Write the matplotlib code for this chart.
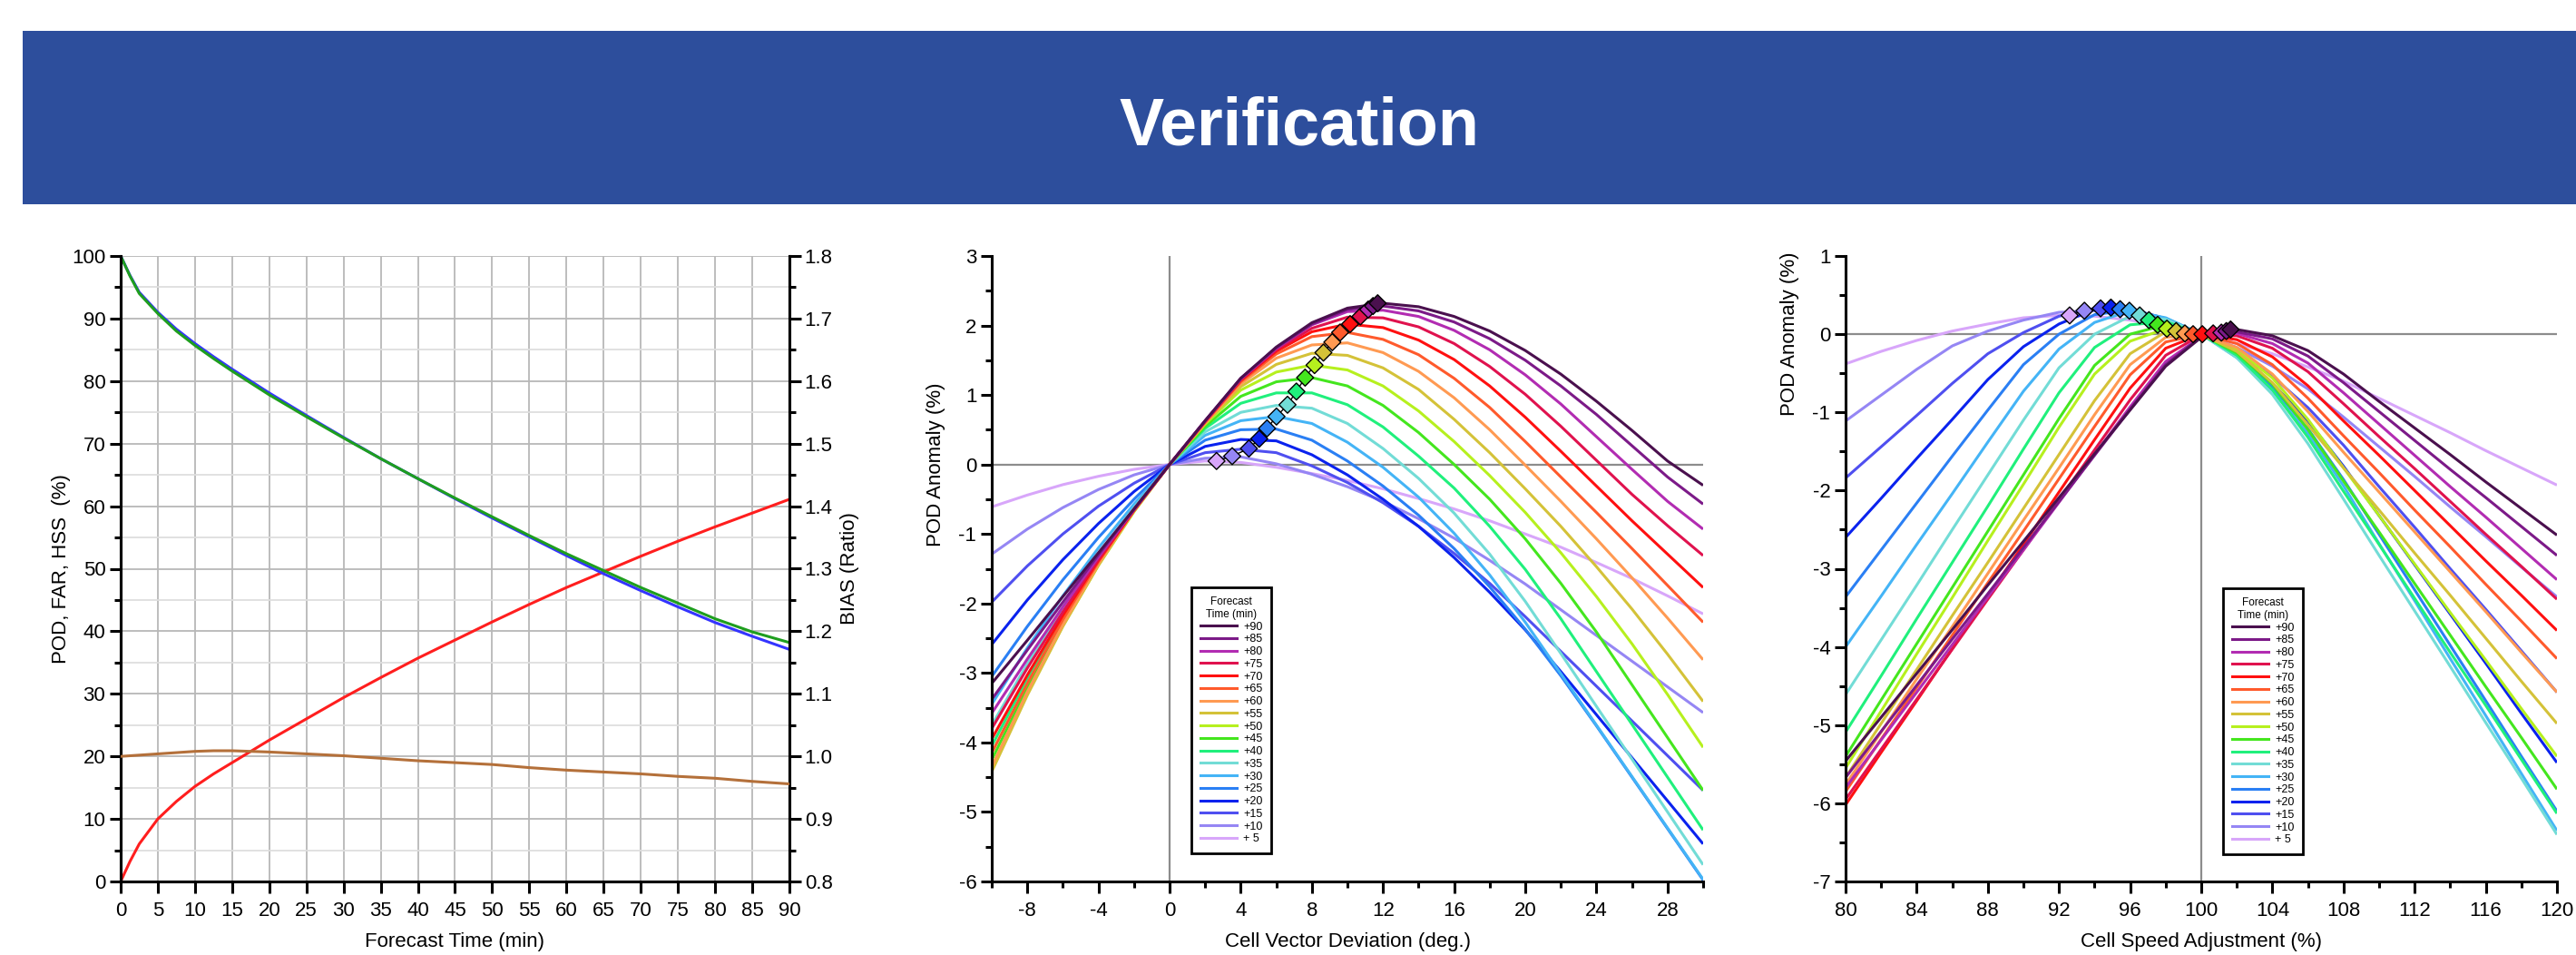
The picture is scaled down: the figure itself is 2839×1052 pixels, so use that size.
import matplotlib
matplotlib.use('Agg')
import matplotlib.pyplot as plt
from matplotlib.patches import Rectangle
from matplotlib.ticker import MultipleLocator, FormatStrFormatter
from matplotlib.lines import Line2D

plt.rcParams['font.family'] = ['Liberation Sans', 'DejaVu Sans']
plt.rcParams['axes.unicode_minus'] = False

# ---- left panel: scores vs forecast time ----
lead_min = [0, 1.25, 2.5, 5, 7.5, 10, 12.5, 15, 20, 25, 30, 35, 40, 45, 50, 55, 60, 65, 70, 75, 80, 85, 90]
pod_blue = [100, 96.9, 94.2, 91.0, 88.3, 86.0, 83.9, 81.9, 78.1, 74.5, 71.0, 67.6, 64.4, 61.2, 58.1, 55.1,
            52.1, 49.2, 46.5, 43.9, 41.4, 39.2, 37.1]
hss_green = [100, 96.8, 94.0, 90.8, 88.0, 85.7, 83.6, 81.6, 77.8, 74.3, 70.9, 67.6, 64.4, 61.3, 58.3, 55.3,
             52.4, 49.7, 47.0, 44.5, 42.0, 39.9, 38.2]
far_red = [0, 3.2, 6.0, 10.0, 12.8, 15.2, 17.2, 19.0, 22.6, 26.0, 29.4, 32.6, 35.7, 38.6, 41.5, 44.3,
           47.0, 49.5, 52.0, 54.4, 56.7, 58.9, 61.1]
bias_brown = [1.000, 1.001, 1.002, 1.004, 1.006, 1.008, 1.009, 1.009, 1.007, 1.004, 1.001, 0.997, 0.993,
              0.990, 0.987, 0.982, 0.978, 0.975, 0.972, 0.968, 0.965, 0.960, 0.956]

# ---- middle panel: POD anomaly vs cell vector deviation ----
dev_x = [-10, -8, -6, -4, -2, 0, 2, 4, 6, 8, 10, 12, 14, 16, 18, 20, 22, 24, 26, 28, 30]
dev_05 = [-0.61, -0.44, -0.29, -0.17, -0.07, 0, 0.05, 0.03, -0.04, -0.13, -0.23, -0.35, -0.49, -0.64, -0.81, -1.00, -1.19, -1.41, -1.64, -1.89, -2.15]
dev_10 = [-1.29, -0.93, -0.62, -0.36, -0.15, 0, 0.09, 0.11, 0.01, -0.14, -0.32, -0.53, -0.78, -1.06, -1.38, -1.72, -2.09, -2.46, -2.83, -3.20, -3.57]
dev_15 = [-1.98, -1.46, -1.00, -0.60, -0.27, 0, 0.17, 0.22, 0.17, -0.02, -0.26, -0.55, -0.89, -1.28, -1.71, -2.19, -2.69, -3.19, -3.69, -4.19, -4.69]
dev_20 = [-2.59, -1.95, -1.37, -0.85, -0.39, 0, 0.26, 0.36, 0.34, 0.14, -0.15, -0.50, -0.89, -1.34, -1.84, -2.38, -2.98, -3.60, -4.22, -4.84, -5.46]
dev_25 = [-3.05, -2.33, -1.66, -1.05, -0.50, 0, 0.35, 0.50, 0.51, 0.35, 0.05, -0.31, -0.73, -1.21, -1.76, -2.37, -3.04, -3.76, -4.50, -5.24, -5.98]
dev_30 = [-3.45, -2.64, -1.89, -1.20, -0.57, 0, 0.42, 0.63, 0.69, 0.59, 0.32, -0.04, -0.47, -0.99, -1.59, -2.27, -3.01, -3.75, -4.49, -5.23, -5.97]
dev_35 = [-3.75, -2.87, -2.05, -1.30, -0.62, 0, 0.47, 0.75, 0.85, 0.81, 0.59, 0.23, -0.20, -0.70, -1.29, -1.97, -2.72, -3.48, -4.24, -5.00, -5.76]
dev_40 = [-4.05, -3.08, -2.19, -1.38, -0.65, 0, 0.52, 0.88, 1.03, 1.03, 0.86, 0.54, 0.12, -0.34, -0.89, -1.51, -2.22, -2.98, -3.74, -4.50, -5.26]
dev_45 = [-4.25, -3.21, -2.27, -1.42, -0.66, 0, 0.55, 0.98, 1.19, 1.25, 1.13, 0.85, 0.46, 0.00, -0.50, -1.07, -1.71, -2.41, -3.17, -3.93, -4.69]
dev_50 = [-4.35, -3.29, -2.32, -1.45, -0.68, 0, 0.58, 1.07, 1.33, 1.43, 1.36, 1.13, 0.77, 0.33, -0.16, -0.69, -1.27, -1.90, -2.58, -3.31, -4.07]
dev_55 = [-4.42, -3.32, -2.33, -1.45, -0.67, 0, 0.59, 1.12, 1.44, 1.60, 1.57, 1.39, 1.08, 0.65, 0.17, -0.35, -0.89, -1.47, -2.08, -2.73, -3.41]
dev_60 = [-4.35, -3.27, -2.30, -1.43, -0.66, 0, 0.60, 1.16, 1.53, 1.72, 1.75, 1.61, 1.34, 0.96, 0.50, -0.01, -0.53, -1.07, -1.63, -2.21, -2.81]
dev_65 = [-4.15, -3.15, -2.23, -1.40, -0.66, 0, 0.61, 1.19, 1.59, 1.84, 1.90, 1.80, 1.58, 1.24, 0.82, 0.33, -0.18, -0.69, -1.21, -1.74, -2.27]
dev_70 = [-3.95, -3.03, -2.17, -1.38, -0.66, 0, 0.62, 1.21, 1.63, 1.91, 2.02, 1.97, 1.79, 1.51, 1.13, 0.68, 0.19, -0.31, -0.81, -1.29, -1.77]
dev_75 = [-3.80, -2.93, -2.12, -1.36, -0.65, 0, 0.62, 1.22, 1.65, 1.96, 2.12, 2.11, 1.98, 1.74, 1.41, 1.01, 0.55, 0.06, -0.43, -0.88, -1.31]
dev_80 = [-3.58, -2.80, -2.05, -1.33, -0.65, 0, 0.63, 1.23, 1.67, 2.01, 2.20, 2.22, 2.13, 1.93, 1.65, 1.29, 0.87, 0.40, -0.07, -0.53, -0.93]
dev_85 = [-3.38, -2.67, -1.98, -1.30, -0.64, 0, 0.63, 1.24, 1.68, 2.02, 2.23, 2.28, 2.21, 2.05, 1.81, 1.50, 1.13, 0.72, 0.27, -0.18, -0.57]
dev_90 = [-3.15, -2.53, -1.90, -1.27, -0.64, 0, 0.63, 1.24, 1.69, 2.04, 2.25, 2.32, 2.27, 2.13, 1.92, 1.64, 1.30, 0.91, 0.49, 0.05, -0.30]
dev_peak_x = [2.64, 3.52, 4.46, 5.04, 5.48, 6.01, 6.63, 7.13, 7.62, 8.15, 8.65, 9.15, 9.59, 10.15, 10.73, 11.17, 11.44, 11.70]
dev_peak_y = [0.05, 0.12, 0.23, 0.37, 0.52, 0.69, 0.86, 1.05, 1.25, 1.43, 1.61, 1.76, 1.90, 2.02, 2.13, 2.23, 2.28, 2.32]

# ---- right panel: POD anomaly vs cell speed adjustment ----
spd_x = [80, 82, 84, 86, 88, 90, 92, 94, 96, 98, 100, 102, 104, 106, 108, 110, 112, 114, 116, 118, 120]
spd_05 = [-0.38, -0.22, -0.08, 0.04, 0.13, 0.21, 0.24, 0.23, 0.18, 0.10, 0.00, -0.12, -0.25, -0.42, -0.60, -0.82, -1.04, -1.26, -1.49, -1.71, -1.93]
spd_10 = [-1.11, -0.78, -0.45, -0.15, 0.04, 0.18, 0.28, 0.30, 0.25, 0.14, 0.00, -0.17, -0.41, -0.70, -1.06, -1.44, -1.82, -2.21, -2.59, -2.98, -3.36]
spd_15 = [-1.84, -1.44, -1.04, -0.63, -0.25, 0.02, 0.23, 0.33, 0.30, 0.17, 0.00, -0.23, -0.54, -0.94, -1.42, -1.95, -2.47, -3.00, -3.52, -4.05, -4.58]
spd_20 = [-2.60, -2.10, -1.59, -1.09, -0.58, -0.16, 0.13, 0.32, 0.32, 0.20, 0.00, -0.26, -0.63, -1.11, -1.69, -2.32, -2.95, -3.58, -4.21, -4.85, -5.48]
spd_25 = [-3.36, -2.76, -2.16, -1.56, -0.97, -0.39, 0.00, 0.25, 0.31, 0.20, 0.00, -0.28, -0.68, -1.21, -1.86, -2.56, -3.27, -3.98, -4.69, -5.40, -6.10]
spd_30 = [-4.00, -3.35, -2.69, -2.04, -1.38, -0.73, -0.19, 0.15, 0.30, 0.21, 0.00, -0.30, -0.72, -1.27, -1.94, -2.68, -3.41, -4.15, -4.88, -5.62, -6.35]
spd_35 = [-4.61, -3.91, -3.21, -2.50, -1.80, -1.10, -0.43, 0.00, 0.23, 0.19, 0.00, -0.30, -0.77, -1.40, -2.11, -2.83, -3.54, -4.25, -4.97, -5.68, -6.40]
spd_40 = [-5.09, -4.37, -3.64, -2.92, -2.20, -1.47, -0.75, -0.17, 0.12, 0.16, 0.00, -0.27, -0.71, -1.32, -2.01, -2.69, -3.38, -4.07, -4.75, -5.44, -6.13]
spd_45 = [-5.40, -4.68, -3.96, -3.24, -2.52, -1.80, -1.08, -0.40, 0.00, 0.12, 0.00, -0.24, -0.64, -1.22, -1.88, -2.53, -3.19, -3.85, -4.51, -5.16, -5.82]
spd_50 = [-5.55, -4.82, -4.09, -3.37, -2.64, -1.92, -1.19, -0.51, -0.09, 0.07, 0.00, -0.20, -0.56, -1.09, -1.71, -2.32, -2.94, -3.56, -4.17, -4.79, -5.40]
spd_55 = [-5.67, -4.98, -4.29, -3.60, -2.92, -2.23, -1.54, -0.85, -0.25, 0.03, 0.00, -0.22, -0.62, -1.16, -1.71, -2.25, -2.80, -3.34, -3.89, -4.44, -4.98]
spd_60 = [-5.76, -5.09, -4.41, -3.74, -3.06, -2.38, -1.71, -1.03, -0.39, -0.04, -0.01, -0.17, -0.51, -0.99, -1.51, -2.02, -2.53, -3.04, -3.55, -4.07, -4.58]
spd_65 = [-5.85, -5.18, -4.52, -3.85, -3.18, -2.52, -1.85, -1.18, -0.52, -0.10, 0.00, -0.12, -0.39, -0.82, -1.30, -1.77, -2.25, -2.72, -3.20, -3.67, -4.15]
spd_70 = [-6.02, -5.35, -4.69, -4.02, -3.35, -2.69, -2.02, -1.35, -0.69, -0.18, 0.00, -0.07, -0.29, -0.66, -1.11, -1.55, -2.00, -2.45, -2.90, -3.34, -3.79]
spd_75 = [-5.95, -5.31, -4.67, -4.03, -3.39, -2.76, -2.12, -1.48, -0.84, -0.27, -0.01, -0.02, -0.18, -0.48, -0.89, -1.31, -1.72, -2.14, -2.56, -2.97, -3.39]
spd_80 = [-5.80, -5.19, -4.58, -3.97, -3.36, -2.76, -2.15, -1.54, -0.93, -0.35, -0.03, 0.01, -0.12, -0.37, -0.75, -1.15, -1.55, -1.95, -2.34, -2.74, -3.14]
spd_85 = [-5.67, -5.08, -4.49, -3.90, -3.32, -2.73, -2.14, -1.55, -0.96, -0.39, -0.03, 0.03, -0.06, -0.28, -0.62, -0.99, -1.36, -1.73, -2.09, -2.46, -2.83]
spd_90 = [-5.46, -4.90, -4.34, -3.78, -3.21, -2.65, -2.09, -1.53, -0.97, -0.41, -0.04, 0.06, -0.02, -0.21, -0.51, -0.86, -1.20, -1.54, -1.89, -2.23, -2.57]
spd_peak_x = [92.6, 93.43, 94.34, 94.92, 95.44, 95.96, 96.54, 97.06, 97.55, 98.07, 98.59, 99.08, 99.54, 100.06, 100.67, 101.13, 101.41, 101.65]
spd_peak_y = [0.24, 0.30, 0.33, 0.34, 0.32, 0.30, 0.24, 0.18, 0.12, 0.07, 0.04, 0.01, 0.00, 0.00, 0.01, 0.02, 0.04, 0.06]

lead_labels = ['+ 5', '+10', '+15', '+20', '+25', '+30', '+35', '+40', '+45',
               '+50', '+55', '+60', '+65', '+70', '+75', '+80', '+85', '+90']
lead_colors = ['#d8a6fa', '#9586f4', '#4f4ff0', '#0a22ee', '#2a7ff4', '#44b4f6', '#72dcd6', '#20f07c', '#44e61e',
               '#b6f01e', '#d4c238', '#ff9a52', '#ff5a2c', '#ff1010', '#e0124e', '#b22cb2', '#7c1a88', '#4a104e']

dev_curves = [dev_05, dev_10, dev_15, dev_20, dev_25, dev_30, dev_35, dev_40, dev_45,
              dev_50, dev_55, dev_60, dev_65, dev_70, dev_75, dev_80, dev_85, dev_90]
spd_curves = [spd_05, spd_10, spd_15, spd_20, spd_25, spd_30, spd_35, spd_40, spd_45,
              spd_50, spd_55, spd_60, spd_65, spd_70, spd_75, spd_80, spd_85, spd_90]

W, H = 2839, 1052
fig = plt.figure(figsize=(W / 100, H / 100), dpi=100)

# title banner
fig.patches.append(Rectangle((25 / W, 827 / H), (W - 25) / W, 191 / H, transform=fig.transFigure,
                             facecolor='#2d4e9c', edgecolor='none'))
fig.text(1432 / W, (H - 159) / H, 'Verification', color='white', fontsize=53, fontweight='bold',
         ha='center', va='baseline')

SPW = 2.2
FS = 16


def style_axis(ax, spines):
    for side in ['top', 'right', 'left', 'bottom']:
        ax.spines[side].set_visible(side in spines)
        ax.spines[side].set_linewidth(SPW)
    ax.tick_params(which='major', direction='out', length=9, width=SPW, labelsize=FS)
    ax.tick_params(which='minor', direction='out', length=5, width=SPW)
    ax.tick_params(axis='x', which='major', pad=6.5)
    ax.tick_params(axis='y', which='major', pad=3)


ax_b = 81 / H
ax_h = 689 / H

# ---------- left ----------
ax1 = fig.add_axes([133 / W, ax_b, 737 / W, ax_h])
style_axis(ax1, ['left', 'bottom', 'right'])
ax1.set_xlim(0, 90)
ax1.set_ylim(0, 100)
ax1.xaxis.set_major_locator(MultipleLocator(5))
ax1.yaxis.set_major_locator(MultipleLocator(10))
ax1.yaxis.set_minor_locator(MultipleLocator(5))
ax1.grid(True, which='major', color='#b8b8b8', lw=1.3)
ax1.grid(True, which='minor', axis='y', color='#dedede', lw=1.3)
ax1.set_axisbelow(True)
ax1.plot(lead_min, far_red, color='#ff1e1e', lw=2.2, zorder=3)
ax1.plot(lead_min, pod_blue, color='#3434ff', lw=2.2, zorder=3)
ax1.plot(lead_min, hss_green, color='#1e9e1e', lw=2.2, zorder=4)
ax1.set_xlabel('Forecast Time (min)', fontsize=FS, va='center')
ax1.xaxis.set_label_coords(0.5, (971 - 1038) / 689)
ax1.set_ylabel('POD, FAR, HSS  (%)', fontsize=FS, va='center')
ax1.yaxis.set_label_coords((67 - 133) / 737, 0.5)

ax2 = ax1.twinx()
style_axis(ax2, ['left', 'bottom', 'right'])
ax2.set_ylim(0.8, 1.8)
ax2.yaxis.set_major_locator(MultipleLocator(0.1))
ax2.yaxis.set_minor_locator(MultipleLocator(0.05))
ax2.yaxis.set_major_formatter(FormatStrFormatter('%.1f'))
ax2.plot(lead_min, bias_brown, color='#b4703a', lw=2.2, zorder=3)
ax2.set_ylabel('BIAS (Ratio)', fontsize=FS, va='center')
ax2.yaxis.set_label_coords((937 - 133) / 737, 0.5)


def family_panel(left, xs, curves, px, py, xlim, ylim, xmajor, xlabel, x_zero, leg_xy):
    ax = fig.add_axes([left / W, ax_b, 784 / W, ax_h])
    style_axis(ax, ['left', 'bottom'])
    ax.set_xlim(*xlim)
    ax.set_ylim(*ylim)
    ax.xaxis.set_major_locator(MultipleLocator(xmajor))
    ax.xaxis.set_minor_locator(MultipleLocator(xmajor / 2))
    ax.yaxis.set_major_locator(MultipleLocator(1))
    ax.yaxis.set_minor_locator(MultipleLocator(0.5))
    ax.axhline(0, color='#8c8c8c', lw=1.6, zorder=1)
    ax.axvline(x_zero, color='#8c8c8c', lw=1.6, zorder=1)
    handles = []
    for ys, col, lab in zip(curves, lead_colors, lead_labels):
        ax.plot(xs, ys, color=col, lw=2.2, zorder=2, solid_capstyle='butt')
        handles.append(Line2D([], [], color=col, lw=2.2, label=lab))
    ax.plot(px, py, color='black', lw=1.0, zorder=5)
    ax.scatter(px, py, marker='D', s=90, c=lead_colors, edgecolors='black', linewidths=1.0, zorder=6)
    ax.set_xlabel(xlabel, fontsize=FS, va='center')
    ax.xaxis.set_label_coords(0.5, (971 - 1038) / 689)
    ax.set_ylabel('POD Anomaly (%)', fontsize=FS, va='center')
    ax.yaxis.set_label_coords(-0.078, (0 - ylim[0]) / (ylim[1] - ylim[0]))
    leg = ax.legend(handles[::-1], lead_labels[::-1], loc='upper left',
                    bbox_to_anchor=(leg_xy[0] / W, 1 - leg_xy[1] / H), bbox_transform=fig.transFigure,
                    title='Forecast\nTime (min)', title_fontsize=8.5, fontsize=9, labelspacing=0.14,
                    handlelength=3.2, handletextpad=0.55, borderpad=0.8, borderaxespad=0,
                    fancybox=False, framealpha=1, edgecolor='black', alignment='center')
    leg.get_title().set_multialignment('center')
    leg.get_frame().set_linewidth(2.0)
    return ax


family_panel(1093, dev_x, dev_curves, dev_peak_x, dev_peak_y, (-10, 30), (-6, 3), 4,
             'Cell Vector Deviation (deg.)', 0, (1313, 647))
family_panel(2034, spd_x, spd_curves, spd_peak_x, spd_peak_y, (80, 120), (-7, 1), 4,
             'Cell Speed Adjustment (%)', 100, (2450, 648))

fig.savefig('out.png', dpi=100)
